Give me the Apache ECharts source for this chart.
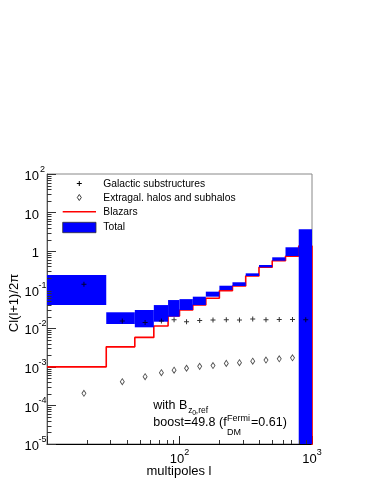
<!DOCTYPE html>
<html><head><meta charset="utf-8">
<script src="https://cdn.jsdelivr.net/npm/echarts@6/dist/echarts.min.js"></script>
<style>html,body{margin:0;padding:0;background:#fff}#c{width:374px;height:484px}</style>
</head><body><div id="c"></div>
<script>
// multipole bin edges (l)
const binEdges = [10, 28, 46, 64, 82, 100, 126, 158, 200, 251, 316, 398, 501, 631, 794, 1000];
// Galactic substructures (+ markers), one per bin
const galactic = [0.138, 0.0155, 0.0141, 0.0155, 0.0166, 0.0148, 0.0159, 0.0164, 0.0166, 0.0164, 0.0174, 0.0166, 0.017, 0.017, 0.0166];
// Extragalactic halos and subhalos (diamond markers)
const extragal = [2.06e-4, 4.12e-4, 5.56e-4, 7.05e-4, 8.2e-4, 9.2e-4, 1.03e-3, 1.08e-3, 1.23e-3, 1.28e-3, 1.4e-3, 1.5e-3, 1.62e-3, 1.72e-3];
// Blazars (red step histogram)
const blazars = [1.0e-3, 3.3e-3, 5.8e-3, 0.0115, 0.0208, 0.0298, 0.040, 0.060, 0.094, 0.125, 0.227, 0.381, 0.565, 0.74, 1.36];
// Total band (blue boxes): lower and upper edges
const totalLow  = [0.040, 0.0129, 0.0106, 0.0148, 0.020, 0.0298, 0.040, 0.066, 0.098, 0.125, 0.227, 0.381, 0.565, 0.748, 1e-6];
const totalHigh = [0.24, 0.026, 0.0298, 0.040, 0.054, 0.057, 0.066, 0.089, 0.127, 0.156, 0.266, 0.437, 0.692, 1.26, 3.68];
// tick labels
const xTickValues = [10, 100, 1000];
const xTickLabels = ['', '10^2', '10^3'];
const yTickValues = [1e-5, 1e-4, 1e-3, 1e-2, 1e-1, 1, 10, 100];
const yTickLabels = ['10^-5', '10^-4', '10^-3', '10^-2', '10^-1', '1', '10', '10^2'];

const FONT = '"Liberation Sans", Arial, Helvetica, sans-serif';

function fmtLabel(lab, padPlain) {
  if (lab === '') return '';
  const i = lab.indexOf('^');
  if (i >= 0) return '{b|' + lab.slice(0, i) + '}{s|' + lab.slice(i + 1) + '}';
  return padPlain ? '{b|' + lab + '}{p| }' : '{b|' + lab + '}';
}
function nearestIdx(vals, v) {
  let best = 0, bd = Infinity;
  vals.forEach((t, i) => { const d = Math.abs(Math.log10(t) - Math.log10(v)); if (d < bd) { bd = d; best = i; } });
  return bd < 0.01 ? best : -1;
}

const centers = binEdges.slice(0, -1).map((e, i) => (e + binEdges[i + 1]) / 2);
const boxData = totalLow.map((lo, i) => [binEdges[i], binEdges[i + 1], lo, totalHigh[i]]);
const redData = blazars.map((v, i) => [binEdges[i], v]);
redData.push([binEdges[binEdges.length - 1], blazars[blazars.length - 1]]);
redData.push([binEdges[binEdges.length - 1], 1e-7]);
const galData = galactic.map((v, i) => [centers[i], v]);
const exData = extragal.map((v, i) => [centers[i], v]);

// minor tick positions (2..9 per decade)
const yMinor = [], xMinor = [];
for (let e = -5; e < 2; e++) for (let m = 2; m <= 9; m++) yMinor.push([10, m * Math.pow(10, e)]);
for (let e = 1; e < 3; e++) for (let m = 2; m <= 9; m++) xMinor.push([m * Math.pow(10, e), 1e-5]);

const richBase = {
  b: { fontSize: 13, fontFamily: FONT, color: '#000', lineHeight: 18, verticalAlign: 'bottom' },
  s: { fontSize: 9, fontFamily: FONT, color: '#000', lineHeight: 10, verticalAlign: 'top' },
  p: { fontSize: 9, fontFamily: FONT, lineHeight: 10, width: 7 }
};
const richY = {
  b: richBase.b,
  s: Object.assign({}, richBase.s, { width: 7, align: 'left' }),
  p: richBase.p
};

const chart = echarts.init(document.getElementById('c'), null, { renderer: 'canvas' });
chart.setOption({
  animation: false,
  backgroundColor: '#fff',
  grid: { left: 47, top: 174, right: 62, bottom: 40, show: true, borderColor: '#888', borderWidth: 1, backgroundColor: 'transparent', containLabel: false, outerBoundsMode: 'none' },
  xAxis: {
    type: 'log', logBase: 10, min: 10, max: 1000,
    axisLine: { show: true, onZero: false, lineStyle: { color: '#000', width: 1 } },
    axisTick: { show: true, inside: true, length: 8, lineStyle: { color: '#222' } },
    splitLine: { show: false },
    axisLabel: {
      margin: 4, color: '#000',
      formatter: v => { const k = nearestIdx(xTickValues, v); return k < 0 ? '' : fmtLabel(xTickLabels[k], false); },
      rich: richBase
    }
  },
  yAxis: {
    type: 'log', logBase: 10, min: 1e-5, max: 100,
    axisLine: { show: true, onZero: false, lineStyle: { color: '#555', width: 1 } },
    axisTick: { show: true, inside: true, length: 9, lineStyle: { color: '#333' } },
    splitLine: { show: false },
    axisLabel: {
      margin: 1, color: '#000', align: 'right',
      formatter: v => { const k = nearestIdx(yTickValues, v); return k < 0 ? '' : fmtLabel(yTickLabels[k], true); },
      rich: richY
    }
  },
  series: [
    {
      type: 'line', name: 'Blazars', data: redData, step: 'end', symbol: 'none', z: 2,
      lineStyle: { color: '#ff0000', width: 1.6 }, clip: true, silent: true
    },
    {
      type: 'custom', name: 'Total', data: boxData, z: 3, clip: true, silent: true,
      encode: { x: [0, 1], y: [2, 3] },
      renderItem: (params, api) => {
        const p0 = api.coord([api.value(0), api.value(3)]);
        const p1 = api.coord([api.value(1), api.value(2)]);
        return { type: 'rect', shape: { x: p0[0], y: p0[1], width: p1[0] - p0[0], height: p1[1] - p0[1] }, style: { fill: '#0000ff' } };
      }
    },
    {
      type: 'scatter', name: 'Galactic substructures', data: galData, z: 4, silent: true,
      symbol: 'path://M0,2H5V3H0Z M2,0H3V5H2Z', symbolSize: 5, itemStyle: { color: '#000' }
    },
    {
      type: 'scatter', name: 'Extragal. halos and subhalos', data: exData, z: 4, silent: true,
      symbol: 'diamond', symbolSize: [4, 6], itemStyle: { color: '#fff', borderColor: '#222', borderWidth: 0.9 }
    },
    {
      type: 'custom', data: yMinor, z: 5, silent: true, encode: { x: 0, y: 1 },
      renderItem: (params, api) => {
        const pt = api.coord([api.value(0), api.value(1)]);
        const y = Math.round(pt[1]) + 0.5;
        return { type: 'line', shape: { x1: pt[0], y1: y, x2: pt[0] + 4.5, y2: y }, style: { stroke: '#333', lineWidth: 1 } };
      }
    },
    {
      type: 'custom', data: xMinor, z: 5, silent: true, encode: { x: 0, y: 1 },
      renderItem: (params, api) => {
        const pt = api.coord([api.value(0), api.value(1)]);
        const x = Math.round(pt[0]) + 0.5;
        return { type: 'line', shape: { x1: x, y1: pt[1], x2: x, y2: pt[1] - 4 }, style: { stroke: '#333', lineWidth: 1 } };
      }
    }
  ],
  graphic: [
    // axis titles
    { type: 'text', x: 179, y: 471, style: { text: 'multipoles l', font: '13px ' + FONT, fill: '#000', align: 'center', verticalAlign: 'middle' } },
    { type: 'text', x: 14, y: 303, rotation: Math.PI / 2, style: { text: 'Cl(l+1)/2π', font: '13px ' + FONT, fill: '#000', align: 'center', verticalAlign: 'middle' } },
    // legend
    { type: 'line', shape: { x1: 76.8, y1: 183.5, x2: 81.8, y2: 183.5 }, style: { stroke: '#000', lineWidth: 1 } },
    { type: 'line', shape: { x1: 79.3, y1: 181, x2: 79.3, y2: 186 }, style: { stroke: '#000', lineWidth: 1 } },
    { type: 'text', x: 103.3, y: 184, style: { text: 'Galactic substructures', font: '10.3px ' + FONT, fill: '#000', verticalAlign: 'middle' } },
    { type: 'polygon', shape: { points: [[79.3, 194.5], [81.3, 197.5], [79.3, 200.5], [77.3, 197.5]] }, style: { fill: '#fff', stroke: '#222', lineWidth: 0.9 } },
    { type: 'text', x: 103.3, y: 198, style: { text: 'Extragal. halos and subhalos', font: '10.3px ' + FONT, fill: '#000', verticalAlign: 'middle' } },
    { type: 'line', shape: { x1: 62.7, y1: 211.7, x2: 96, y2: 211.7 }, style: { stroke: '#ff0000', lineWidth: 1.6 } },
    { type: 'text', x: 103.3, y: 212.5, style: { text: 'Blazars', font: '10.3px ' + FONT, fill: '#000', verticalAlign: 'middle' } },
    { type: 'rect', shape: { x: 62.7, y: 222.3, width: 33.3, height: 10.4 }, style: { fill: '#0000ff', stroke: '#333', lineWidth: 0.8 } },
    { type: 'text', x: 103.3, y: 227.5, style: { text: 'Total', font: '10.3px ' + FONT, fill: '#000', verticalAlign: 'middle' } },
    // annotation
    { type: 'text', x: 153.3, y: 405.5, style: { text: 'with B', font: '12.5px ' + FONT, fill: '#000', verticalAlign: 'middle' } },
    { type: 'text', x: 188.2, y: 410.5, style: { text: 'z', font: '8.5px ' + FONT, fill: '#000', verticalAlign: 'middle' } },
    { type: 'text', x: 192.3, y: 413, style: { text: '0', font: '7px ' + FONT, fill: '#000', verticalAlign: 'middle' } },
    { type: 'text', x: 195.8, y: 410.5, style: { text: ',ref', font: '8.5px ' + FONT, fill: '#000', verticalAlign: 'middle' } },
    { type: 'text', x: 153.3, y: 422.5, style: { text: 'boost=49.8 (f', font: '12.5px ' + FONT, fill: '#000', verticalAlign: 'middle' } },
    { type: 'text', x: 227, y: 419, style: { text: 'Fermi', font: '9px ' + FONT, fill: '#000', verticalAlign: 'middle' } },
    { type: 'text', x: 227, y: 433, style: { text: 'DM', font: '9px ' + FONT, fill: '#000', verticalAlign: 'middle' } },
    { type: 'text', x: 251, y: 422.5, style: { text: '=0.61)', font: '12.5px ' + FONT, fill: '#000', verticalAlign: 'middle' } }
  ]
});
</script>
</body></html>
